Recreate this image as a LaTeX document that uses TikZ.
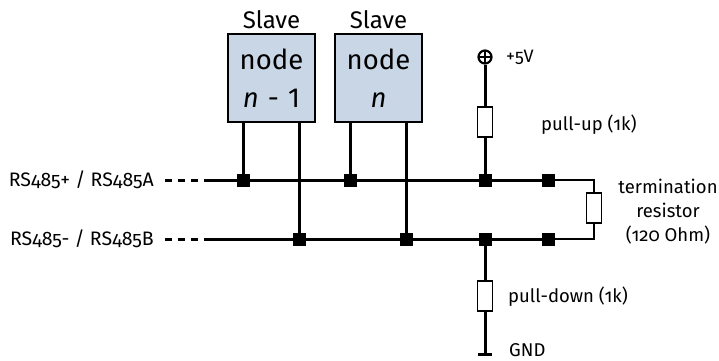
\documentclass[tikz,border=0pt]{standalone}
\usepackage{fontspec}
\setmainfont{Fira Sans}[Numbers=OldStyle]
\newfontfamily\liningfont{Fira Sans}[Numbers=Lining]
\definecolor{boxblue}{RGB}{201,214,230}
\begin{document}
\begin{tikzpicture}[x=1pt,y=-1pt,
  bus/.style={line width=3pt},
  thinw/.style={line width=1.5pt},
  junc/.style={rectangle,fill=black,draw=none,minimum size=13pt,inner sep=0pt},
  res/.style={rectangle,draw,line width=1.8pt,fill=white,minimum width=15pt,minimum height=30pt,inner sep=0pt},
  slavebox/.style={rectangle,draw,line width=2.2pt,fill=boxblue,minimum width=87pt,minimum height=88pt,inner sep=0pt,align=center,font=\liningfont\fontsize{27.5}{38}\selectfont},
  title/.style={font=\fontsize{24}{28}\selectfont,inner sep=0pt},
  lbl/.style={font=\fontsize{18.5}{24}\selectfont,inner sep=0pt},
  leftlbl/.style={font=\fontsize{19.5}{24}\selectfont,inner sep=0pt},
  small/.style={font=\fontsize{18}{20}\selectfont,inner sep=0pt}
]
\useasboundingbox (0,0) rectangle (719,360);

% slave boxes
\node[slavebox] (box1) at (271.5,78) {node\\\textit{n}\,\,-\,\,1};
\node[slavebox] (box2) at (378.5,78) {node\\\textit{n}};
\node[title] (s1) at (271.5,20) {Slave};
\node[title] (s2) at (378.5,20) {Slave};

% junctions
\node[junc] (ja1) at (243,180) {};
\node[junc] (ja2) at (350,180) {};
\node[junc] (ja3) at (485,180) {};
\node[junc] (ja4) at (548,180) {};
\node[junc] (jb1) at (299,239) {};
\node[junc] (jb2) at (406,239) {};
\node[junc] (jb3) at (485,239) {};
\node[junc] (jb4) at (548,239) {};

% bus ends
\coordinate (aL) at (165,180);
\coordinate (aS) at (205,180);
\coordinate (bL) at (165,239);
\coordinate (bS) at (205,239);

% labels on the left
\node[leftlbl,anchor=east] (la) at (154,180) {RS485+ / RS485A};
\node[leftlbl,anchor=east] (lb) at (154,239) {RS485- / RS485B};

% buses
\draw[bus,dash pattern=on 7pt off 6pt] (aL) -- (aS);
\draw[bus] (aS) -- (ja4.center);
\draw[bus,dash pattern=on 7pt off 6pt] (bL) -- (bS);
\draw[bus] (bS) -- (jb4.center);

% box wires
\draw[bus] (box1.south -| ja1) -- (ja1.center);
\draw[bus] (box1.south -| jb1) -- (jb1.center);
\draw[bus] (box2.south -| ja2) -- (ja2.center);
\draw[bus] (box2.south -| jb2) -- (jb2.center);

% pull-up
\node[circle,draw,line width=2.2pt,minimum size=13pt,inner sep=0pt,
  path picture={\draw[line width=2pt] (path picture bounding box.north) -- (path picture bounding box.south)
   (path picture bounding box.west) -- (path picture bounding box.east);}] (vcc) at (485,57) {};
\node[small,anchor=west] (vl) at (506,57) {+5V};
\node[res] (rup) at (485,122) {};
\draw[bus] (vcc) -- (rup);
\draw[bus] (rup) -- (ja3.center);
\node[lbl,anchor=west] (lup) at (541,125) {pull-up (1k)};

% pull-down
\node[res] (rdn) at (485,296) {};
\coordinate (gnd) at (485,354);
\draw[bus] (jb3.center) -- (rdn);
\draw[bus] (rdn) -- (gnd);
\draw[line width=3pt] ([xshift=-7pt]gnd) -- ([xshift=7pt]gnd);
\node[lbl,anchor=west] (ldn) at (508,297) {pull-down (1k)};
\node[lbl,anchor=west] (lgnd) at (509,350) {GND};

% termination
\node[res] (rt) at (594,208) {};
\draw[thinw] (ja4.center) -| (rt.north);
\draw[thinw] (rt.south) |- (jb4.center);
\node[lbl,align=center,font=\fontsize{18.5}{24}\selectfont] (lt) at (668,212) {termination\\resistor\\(120 Ohm)};
\end{tikzpicture}
\end{document}
